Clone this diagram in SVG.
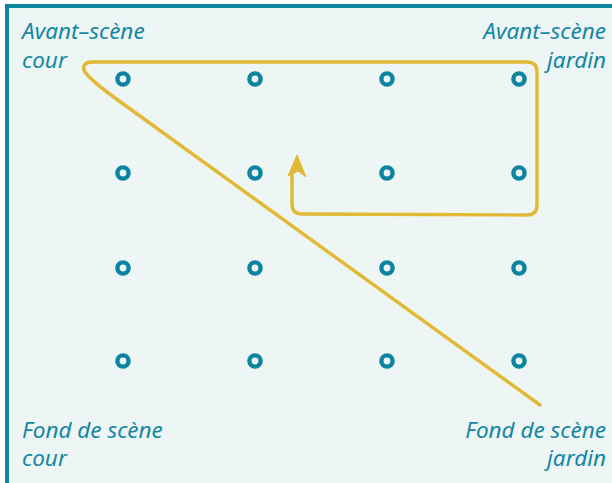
<svg xmlns="http://www.w3.org/2000/svg" width="612" height="483" viewBox="0 0 612 483">
<style>
.lbl{font-family:"Noto Sans","Open Sans",sans-serif;font-style:italic;font-size:22.5px;fill:#1487a2}
.r{text-anchor:end}
.pt{fill:none;stroke:#0a84a0;stroke-width:4.4}
.path{fill:none;stroke:#e2b934;stroke-width:3.4;stroke-linecap:round;stroke-linejoin:round}
</style>
<rect x="0" y="0" width="612" height="483" fill="#ffffff"/>
<rect x="7" y="6" width="615" height="490" fill="#eef5f5" stroke="#0b86a0" stroke-width="4"/>
<g id="labels">
<text class="lbl" x="22" y="39">Avant–scène</text>
<text class="lbl" x="22" y="68">cour</text>
<text class="lbl r" x="606" y="39">Avant–scène</text>
<text class="lbl r" x="606" y="68">jardin</text>
<text class="lbl" x="22" y="438">Fond de scène</text>
<text class="lbl" x="22" y="466">cour</text>
<text class="lbl r" x="606" y="438">Fond de scène</text>
<text class="lbl r" x="606" y="466">jardin</text>
</g>
<g id="n11"><circle class="pt" cx="123" cy="79" r="5.6"/></g>
<g id="n12"><circle class="pt" cx="255" cy="79" r="5.6"/></g>
<g id="n13"><circle class="pt" cx="387" cy="79" r="5.6"/></g>
<g id="n14"><circle class="pt" cx="519" cy="79" r="5.6"/></g>
<g id="n21"><circle class="pt" cx="123" cy="173" r="5.6"/></g>
<g id="n22"><circle class="pt" cx="255" cy="173" r="5.6"/></g>
<g id="n23"><circle class="pt" cx="387" cy="173" r="5.6"/></g>
<g id="n24"><circle class="pt" cx="519" cy="173" r="5.6"/></g>
<g id="n31"><circle class="pt" cx="123" cy="268" r="5.6"/></g>
<g id="n32"><circle class="pt" cx="255" cy="268" r="5.6"/></g>
<g id="n33"><circle class="pt" cx="387" cy="268" r="5.6"/></g>
<g id="n34"><circle class="pt" cx="519" cy="268" r="5.6"/></g>
<g id="n41"><circle class="pt" cx="123" cy="361" r="5.6"/></g>
<g id="n42"><circle class="pt" cx="255" cy="361" r="5.6"/></g>
<g id="n43"><circle class="pt" cx="387" cy="361" r="5.6"/></g>
<g id="n44"><circle class="pt" cx="519" cy="361" r="5.6"/></g>
<g id="connectors">
<path class="path" d="M540,405 L115,98 C100,87 86,75 84,70 Q82,62 93,62 L527,62 Q537,62 537,72 L537,205 Q537,215 527,215 L302,214 Q292,214 292,204 L292,172"/>
<polygon points="297,155 306,177 298,171 288,176" fill="#e2b934" stroke="#e2b934" stroke-width="1" stroke-linejoin="round"/>
</g>
</svg>
